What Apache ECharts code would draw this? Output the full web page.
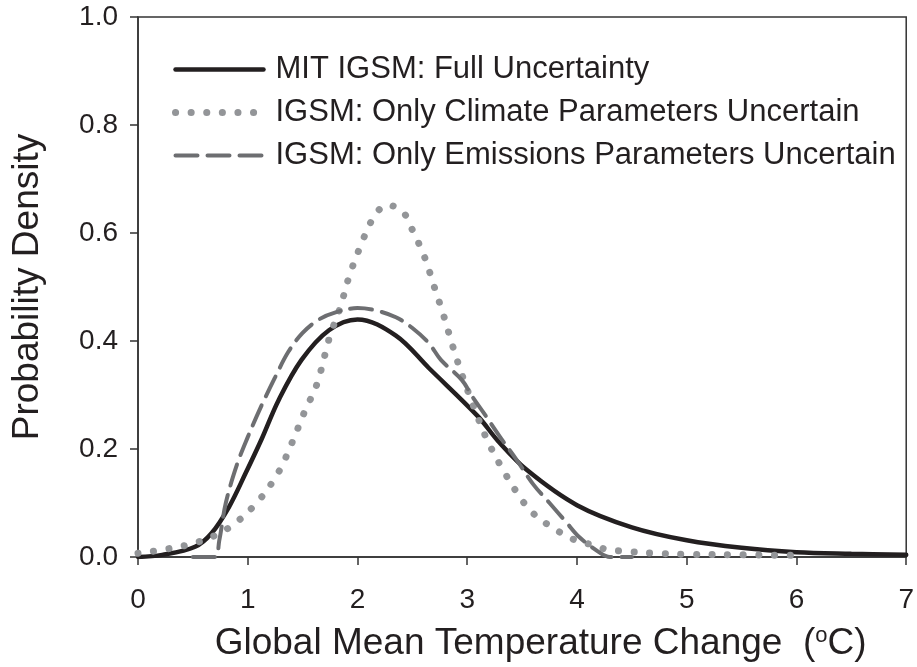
<!DOCTYPE html>
<html>
<head>
<meta charset="utf-8">
<script src="https://cdn.jsdelivr.net/npm/echarts@6/dist/echarts.min.js"></script>
<style>
  html, body { margin: 0; padding: 0; background: #fff; }
  #chart { width: 917px; height: 667px; }
</style>
</head>
<body>
<div id="chart"></div>
<script>
// values
var seriesNames = ['MIT IGSM: Full Uncertainty', 'IGSM: Only Climate Parameters Uncertain', 'IGSM: Only Emissions Parameters Uncertain'];

var fullX = [0, 0.22, 0.52, 0.67, 0.83, 0.98, 1.13, 1.28, 1.49, 1.74, 2.0, 2.35, 2.65, 3.1, 3.28, 3.55, 4.0, 4.5, 5.0, 5.5, 6.0, 6.5, 7.0];
var fullY = [0, 0.004, 0.019, 0.044, 0.093, 0.155, 0.22, 0.29, 0.365, 0.42, 0.44, 0.41, 0.35, 0.26, 0.215, 0.16, 0.096, 0.055, 0.031, 0.017, 0.009, 0.006, 0.004];

var climX = [0, 0.27, 0.55, 0.82, 1.08, 1.28, 1.4, 1.52, 1.63, 1.75, 1.84, 1.92, 2.02, 2.15, 2.27, 2.41, 2.49, 2.61, 2.7, 2.79, 2.87, 2.96, 3.06, 3.17, 3.31, 3.48, 3.59, 3.74, 3.87, 4.0, 4.15, 4.27, 4.42, 4.7, 5.0, 5.5, 5.95];
var climY = [0.007, 0.015, 0.028, 0.053, 0.1, 0.157, 0.21, 0.27, 0.32, 0.41, 0.46, 0.517, 0.572, 0.63, 0.652, 0.64, 0.61, 0.556, 0.5, 0.444, 0.389, 0.333, 0.278, 0.222, 0.167, 0.111, 0.083, 0.059, 0.043, 0.03, 0.022, 0.014, 0.011, 0.007, 0.005, 0.004, 0.003];

var emisX = [0.5, 0.7, 0.74, 0.8, 0.9, 1.0, 1.12, 1.25, 1.37, 1.5, 1.65, 1.8, 2.0, 2.16, 2.35, 2.5, 2.65, 2.76, 2.95, 3.05, 3.15, 3.3, 3.45, 3.6, 3.75, 3.9, 4.02, 4.2, 4.3, 4.5];
var emisY = [0, 0, 0.03, 0.1, 0.17, 0.222, 0.278, 0.333, 0.38, 0.415, 0.44, 0.453, 0.461, 0.457, 0.444, 0.424, 0.396, 0.365, 0.328, 0.296, 0.267, 0.222, 0.18, 0.135, 0.1, 0.065, 0.037, 0.009, 0, 0];

var xTicks = [0, 7, 1];   // min, max, step
var yTicks = [0, 1, 0.2];

var font = '"Liberation Sans", Arial, sans-serif';
var ink = '#231f20';

var zip = function (xs, ys) {
    return xs.map(function (x, i) { return [x, ys[i]]; });
};

var chart = echarts.init(document.getElementById('chart'), null, {renderer: 'canvas'});

var option = {
    animation: false,
    backgroundColor: '#fff',
    textStyle: {fontFamily: font, color: ink},
    grid: {
        left: 138, right: 6, top: 17, bottom: 110,
        show: true, borderColor: '#333', borderWidth: 1.5
    },
    legend: {
        orient: 'vertical',
        left: 172, top: 54, padding: 0,
        itemWidth: 88, itemHeight: 14, itemGap: 12,
        itemStyle: {opacity: 0},
        lineStyle: {width: 'inherit'},
        textStyle: {fontFamily: font, fontSize: 31, color: ink, padding: [0, 0, 0, 7]},
        data: seriesNames
    },
    xAxis: {
        type: 'value',
        min: xTicks[0], max: xTicks[1], interval: xTicks[2],
        splitLine: {show: false},
        axisLine: {onZero: false, lineStyle: {color: '#333', width: 1.5}},
        axisTick: {show: true, inside: false, length: 8, lineStyle: {color: '#333', width: 1.5}},
        axisLabel: {fontFamily: font, fontSize: 28, color: ink, margin: 29},
        name: 'Global Mean Temperature Change  ({sup|o}C)',
        nameLocation: 'middle',
        nameGap: 68,
        nameTextStyle: {
            fontFamily: font, fontSize: 37, color: ink, padding: [0, 0, 0, 37],
            rich: {sup: {fontFamily: font, fontSize: 22, color: ink, verticalAlign: 'top', padding: [0, 0, 14, 0]}}
        }
    },
    yAxis: {
        type: 'value',
        min: yTicks[0], max: yTicks[1], interval: yTicks[2],
        splitLine: {show: false},
        axisLine: {onZero: false, lineStyle: {color: '#333', width: 1.5}},
        axisTick: {show: true, inside: false, length: 8, lineStyle: {color: '#333', width: 1.5}},
        axisLabel: {
            fontFamily: font, fontSize: 28, color: ink, margin: 20,
            formatter: function (v) { return v.toFixed(1); }
        },
        name: 'Probability Density',
        nameLocation: 'middle',
        nameGap: 92,
        nameTextStyle: {fontFamily: font, fontSize: 37, color: ink}
    },
    series: [{
        name: seriesNames[0],
        type: 'line',
        showSymbol: false, symbol: 'none',
        smooth: 0.35,
        color: ink,
        lineStyle: {color: ink, width: 4.5, cap: 'round'},
        data: zip(fullX, fullY),
        z: 3
    }, {
        name: seriesNames[1],
        type: 'line',
        showSymbol: false, symbol: 'none',
        smooth: 0.35,
        color: '#939598',
        lineStyle: {color: '#939598', width: 7, type: [0.1, 15.5], cap: 'round'},
        data: zip(climX, climY),
        z: 4
    }, {
        name: seriesNames[2],
        type: 'line',
        showSymbol: false, symbol: 'none',
        smooth: 0.35,
        color: '#6d6e71',
        lineStyle: {color: '#6d6e71', width: 4, type: [22, 10], cap: 'round'},
        data: zip(emisX, emisY),
        z: 5
    }]
};

chart.setOption(option);
</script>
</body>
</html>
